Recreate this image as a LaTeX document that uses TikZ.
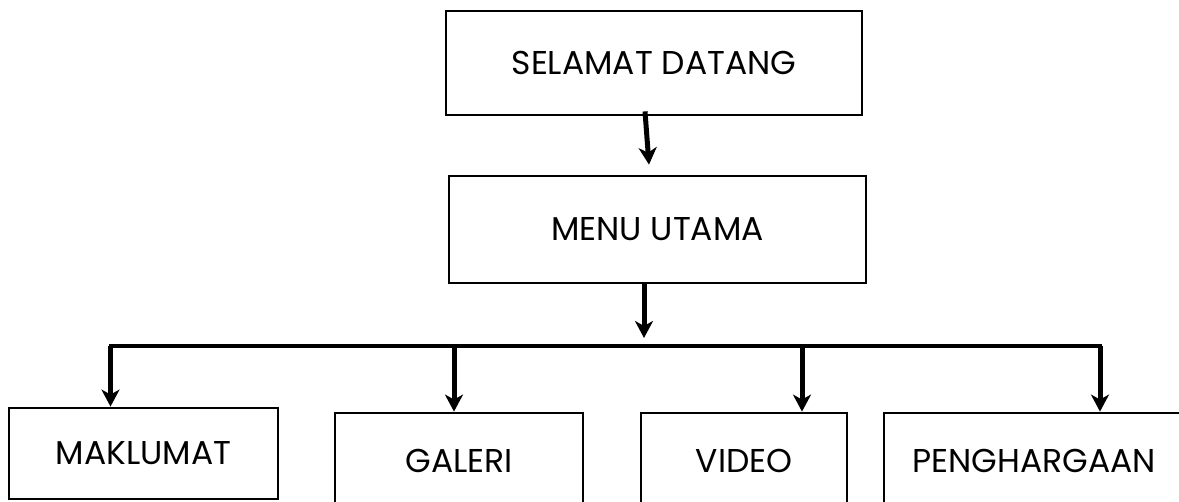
\documentclass[tikz,border=0pt]{standalone}
\usepackage{fontspec}
\setmainfont{Poppins}
\usetikzlibrary{arrows.meta,calc}
\begin{document}
\begin{tikzpicture}[x=1pt,y=-1pt,
  box/.style={draw=black, line width=2.8pt, inner sep=0pt, font=\fontsize{33}{38}\selectfont, text=black},
  arr/.style={line width=5pt, -{Stealth[length=17pt,width=18pt,inset=5pt]}},
  bus/.style={line width=4pt, line cap=rect}]
\useasboundingbox (0,0) rectangle (1179,502);
\clip (0,0) rectangle (1179,502);
% top boxes
\node[box, minimum width=416pt, minimum height=104pt] (sel) at (654,63) {SELAMAT DATANG};
\node[box, minimum width=417pt, minimum height=107pt] (menu) at (657.5,229.5) {MENU UTAMA};
% bottom boxes
\node[box, minimum width=269pt, minimum height=91pt] (mak) at (143.5,453.5) {MAKLUMAT};
\node[box, minimum width=248pt, minimum height=96pt] (gal) at (459,461) {GALERI};
\node[box, minimum width=206pt, minimum height=96pt] (vid) at (744,461) {VIDEO};
\node[box, minimum width=300pt, minimum height=96pt] (pen) at (1034,461) {PENGHARGAAN};
% arrow from SELAMAT DATANG to MENU UTAMA
\coordinate (a1s) at ($(sel.south)+(-9,-5)$);
\coordinate (a1e) at ($(menu.north)+(-8.5,-10)$);
\draw[arr] (a1s) -- (a1e);
% arrow from MENU UTAMA to bus
\coordinate (m2) at (644,338);
\draw[arr] (menu.south -| m2) -- (m2);
% bus
\coordinate (b1) at (110.5,346);
\coordinate (b2) at (454,346);
\coordinate (b3) at (802,346);
\coordinate (b4) at (1100,346);
\draw[bus] (b1) -- (b4);
\draw[arr] (b1) -- (b1 |- mak.north);
\draw[arr] (b2) -- (b2 |- gal.north);
\draw[arr] (b3) -- (b3 |- vid.north);
\draw[arr] (b4) -- (b4 |- pen.north);
\end{tikzpicture}
\end{document}
